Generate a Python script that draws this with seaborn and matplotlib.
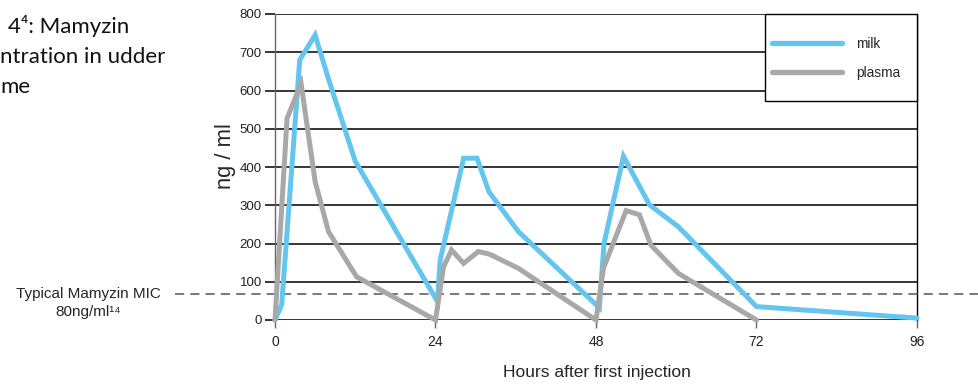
import numpy as np
import pandas as pd
import seaborn as sns
import matplotlib
matplotlib.use("Agg")
import matplotlib.pyplot as plt
from matplotlib.patches import Rectangle
from matplotlib.lines import Line2D
from matplotlib import transforms

# ---- data ----
milk_hours = [0, 1, 3.7, 6, 8, 12, 24.3, 24.7, 28.2, 30.2, 32, 36.4, 48.5, 49.2, 52.1, 56, 60.3, 72, 96]
milk_ng = [0, 40, 680, 745, 630, 415, 48, 157, 423, 423, 335, 231, 32, 200, 428, 301, 244, 35, 5]

plasma_hours = [0, 1.8, 3.9, 6, 8, 12.2, 24, 25.2, 26.4, 28.2, 30.4, 32.1, 36.4, 48, 49.1, 52.5, 54.5, 56.2, 60.3, 72]
plasma_ng = [0, 527, 618, 362, 231, 113, 0, 139, 183, 148, 179, 172, 135, 0, 135, 286, 275, 196, 122, 0]

series_names = ["milk", "plasma"]
mic_value = 68  # dashed reference line as drawn
x_ticks = [0, 24, 48, 72, 96]
y_ticks = [0, 100, 200, 300, 400, 500, 600, 700, 800]

title_lines = ["4\u2074: Mamyzin", "ntration in udder", "me"]
mic_label = "Typical Mamyzin MIC\n80ng/ml\u00b9\u2074"

df = pd.concat([
    pd.DataFrame({"hours": milk_hours, "ng": milk_ng, "series": "milk"}),
    pd.DataFrame({"hours": plasma_hours, "ng": plasma_ng, "series": "plasma"}),
], ignore_index=True)

sns.set_theme(style="white")
plt.rcParams["font.family"] = ["Liberation Sans", "DejaVu Sans"]

fig = plt.figure(figsize=(9.79, 3.84), dpi=100)
ax = fig.add_axes([275 / 979, 1 - 320 / 384, (917 - 275) / 979, (320 - 14) / 384])

palette = {"milk": "#64C5EF", "plasma": "#A8A8A8"}
sns.lineplot(data=df, x="hours", y="ng", hue="series", hue_order=series_names,
             palette=palette, sort=False, estimator=None, linewidth=3.6,
             legend=False, ax=ax, zorder=4)
for ln in ax.lines:
    ln.set_clip_on(False)
    ln.set_solid_joinstyle("miter")

ax.set_xlim(0, 96)
ax.set_ylim(0, 800)
ax.set_xticks(x_ticks)
ax.set_yticks(y_ticks)
ax.yaxis.grid(True, color="black", linewidth=1.1, zorder=1)
ax.set_axisbelow(True)

for s in ["top", "bottom"]:
    ax.spines[s].set_visible(False)
ax.spines["left"].set_color("#666666")
ax.spines["left"].set_linewidth(1.0)
ax.spines["right"].set_color("black")
ax.spines["right"].set_linewidth(1.0)

ax.tick_params(axis="y", left=True, length=7.5, width=1.1, color="black", pad=2,
               labelsize=9.5, labelcolor="#222222")
ax.tick_params(axis="x", bottom=True, length=6, width=1.0, color="#666666", pad=5,
               labelsize=10, labelcolor="#222222")

ax.set_xlabel("Hours after first injection", fontsize=12.5)
ax.xaxis.set_label_coords((597 - 275) / 642, (320 - 372) / 306)
ax.xaxis.label.set_va("center")
ax.set_ylabel("ng / ml", fontsize=15.8)
ax.yaxis.set_label_coords((225 - 275) / 642, (320 - 156) / 306)
ax.yaxis.label.set_va("center")

# legend box
bx0 = (765 - 275) / 642
bh = (101 - 14) / 306
rect = Rectangle((bx0, 1 - bh), 1 - bx0, bh,
                 transform=ax.transAxes, facecolor="white", edgecolor="black",
                 linewidth=1.0, zorder=5, clip_on=False)
ax.add_patch(rect)
handles = [Line2D([], [], color=palette[n], linewidth=3.8) for n in series_names]
leg = ax.legend(handles, series_names, loc="upper left",
                bbox_to_anchor=((768 - 275) / 642, 1 - (33 - 14) / 306),
                frameon=False, fontsize=9.8, handlelength=5.15, handletextpad=1.0,
                labelspacing=1.1, borderpad=0.3, borderaxespad=0.0)
leg.set_zorder(6)

# dashed MIC line across the figure
trans = transforms.blended_transform_factory(fig.transFigure, ax.transData)
ax.plot([175 / 979, 1.0], [mic_value, mic_value], transform=trans, color="#555555",
        linewidth=1.1, linestyle=(0, (6, 4)), clip_on=False, zorder=3)
fig.text(88 / 979, 1 - 303 / 384, mic_label, ha="center", va="center", fontsize=11,
         linespacing=1.3)

# clipped title at top left
for i, t in enumerate(title_lines):
    x0 = 8 if i == 0 else 0
    fig.text(x0 / 979, 1 - (33 + 30 * i) / 384, t, ha="left", va="baseline",
             fontsize=16, family=["Lato", "DejaVu Sans"], color="#111111")

fig.savefig("out.png", dpi=100, facecolor="white")
